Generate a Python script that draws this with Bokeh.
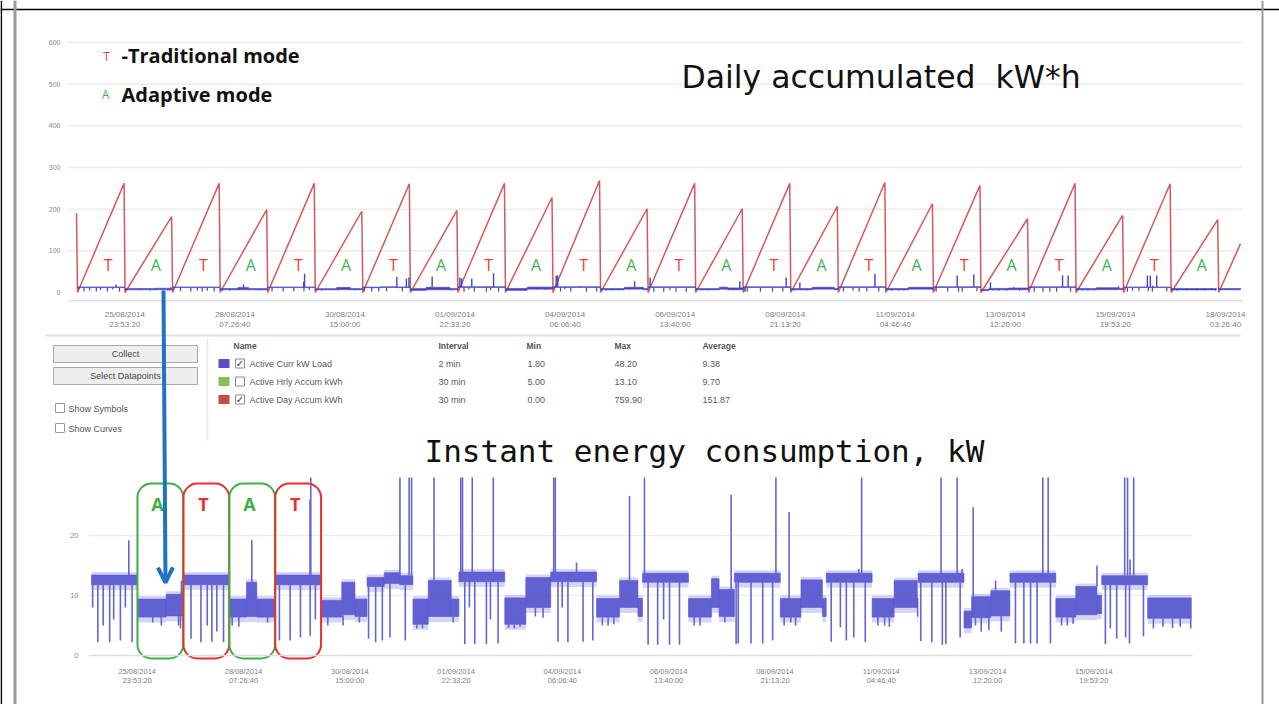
import numpy as np
from bokeh.plotting import figure
from bokeh.models import (Range1d, LinearAxis, DatetimeAxis, FixedTicker,
                          DatetimeTickFormatter, Span, Arrow, OpenHead)
from bokeh.core.properties import value
from bokeh.embed import file_html
from bokeh.resources import INLINE

# ------------------------------------------------------------------ data
days = ["2014-08-25", "2014-08-26", "2014-08-27", "2014-08-28", "2014-08-29",
        "2014-08-30", "2014-08-31", "2014-09-01", "2014-09-02", "2014-09-03",
        "2014-09-04", "2014-09-05", "2014-09-06", "2014-09-07", "2014-09-08",
        "2014-09-09", "2014-09-10", "2014-09-11", "2014-09-12", "2014-09-13",
        "2014-09-14", "2014-09-15", "2014-09-16", "2014-09-17", "2014-09-18"]
modes = ["T", "A", "T", "A", "T", "A", "T", "A", "T", "A", "T", "A",
         "T", "A", "T", "A", "T", "A", "T", "A", "T", "A", "T", "A"]
# daily accumulated kWh reached at the end of each day (23:30)
day_peak_kwh = [262, 182, 262, 199, 262, 195, 261, 197, 262, 228, 269, 201,
                262, 201, 262, 207, 264, 213, 257, 177, 262, 185, 261, 175]
prev_day_end = ("2014-08-24", 23.5, 190)
last_day_partial = ("2014-09-18", 11.0, 117)

# instantaneous load (kW): dense bands (day idx, from h, to h, low, high)
load_bands = [
    (0, 0.0, 24.0, 11.8, 13.4),
    (1, 0.0, 15.0, 6.4, 9.4), (1, 15.0, 24.0, 6.6, 10.2),
    (2, 0.0, 24.0, 11.8, 13.4),
    (3, 0.0, 9.0, 6.4, 9.4), (3, 9.0, 14.4, 6.5, 12.2), (3, 14.4, 24.0, 6.4, 9.4),
    (4, 0.0, 24.0, 11.8, 13.4),
    (5, 0.0, 10.8, 6.4, 9.2), (5, 10.8, 17.7, 6.8, 12.2), (5, 17.7, 24.0, 6.5, 9.4),
    (6, 0.0, 9.0, 11.5, 13.0), (6, 9.0, 17.0, 12.0, 13.8), (6, 17.0, 24.0, 11.8, 13.3),
    (7, 0.0, 8.0, 5.2, 9.4), (7, 8.0, 20.0, 6.5, 12.5), (7, 20.0, 24.0, 6.5, 9.4),
    (8, 0.0, 24.0, 12.3, 13.9),
    (9, 0.0, 11.0, 5.2, 9.6), (9, 11.0, 24.0, 8.0, 13.0),
    (10, 0.0, 24.0, 12.3, 13.9),
    (11, 0.0, 12.0, 6.4, 9.5), (11, 12.0, 21.6, 8.0, 12.5), (11, 21.6, 24.0, 6.5, 9.5),
    (12, 0.0, 24.0, 12.2, 13.7),
    (13, 0.0, 12.0, 6.4, 9.5), (13, 12.0, 16.0, 8.0, 12.8), (13, 16.0, 24.0, 6.5, 11.0),
    (14, 0.0, 24.0, 12.2, 13.7),
    (15, 0.0, 10.8, 6.4, 9.5), (15, 10.8, 22.0, 8.0, 12.6), (15, 22.0, 24.0, 6.5, 9.5),
    (16, 0.0, 24.0, 12.2, 13.7),
    (17, 0.0, 11.5, 6.4, 9.5), (17, 11.5, 23.6, 8.0, 12.5), (17, 23.6, 24.0, 6.5, 9.5),
    (18, 0.0, 24.0, 12.2, 13.7),
    (19, 0.0, 4.0, 4.6, 7.4), (19, 4.0, 14.0, 6.3, 9.8), (19, 14.0, 24.0, 6.6, 10.8),
    (20, 0.0, 24.0, 12.2, 13.7),
    (21, 0.0, 10.4, 6.4, 9.5), (21, 10.4, 21.5, 6.8, 11.5), (21, 21.5, 24.0, 7.0, 10.0),
    (22, 0.0, 24.0, 11.8, 13.3),
    (23, 0.0, 22.8, 6.2, 9.6),
    (24, 0.0, 11.0, 6.5, 9.5),
]
# short drops of the load (day idx, hour, lowest kW)
load_dips = [
    (0, 0.6, 8.0), (0, 3.3, 2.2), (0, 6.1, 5.0), (0, 9.5, 2.2), (0, 11.6, 6.0),
    (0, 15.1, 2.5), (0, 17.7, 8.0), (0, 21.2, 2.2),
    (1, 8.0, 5.5), (1, 12.5, 5.0), (1, 21.5, 5.0), (1, 22.5, 4.5),
    (2, 4.0, 2.8), (2, 9.2, 2.2), (2, 12.5, 5.0), (2, 14.9, 2.3), (2, 17.5, 4.0), (2, 21.0, 2.2),
    (3, 1.5, 5.0), (3, 5.0, 4.8), (3, 20.0, 5.5),
    (4, 2.2, 2.5), (4, 7.8, 2.5), (4, 13.2, 3.0), (4, 18.3, 3.3), (4, 21.0, 6.0),
    (5, 3.5, 5.0), (5, 11.5, 5.0), (5, 20.0, 5.5),
    (6, 0.8, 2.8), (6, 4.5, 2.2), (6, 8.0, 2.5), (6, 12.0, 3.0), (6, 20.0, 2.5),
    (7, 2.0, 4.5), (7, 5.0, 4.5), (7, 21.0, 5.5),
    (8, 3.1, 1.9), (8, 5.5, 8.0), (8, 8.3, 1.9), (8, 14.4, 1.9), (8, 16.5, 6.0), (8, 20.5, 2.0),
    (9, 2.0, 4.6), (9, 5.0, 4.5), (9, 8.0, 4.8), (9, 16.0, 6.5), (9, 20.0, 6.3),
    (10, 3.8, 2.3), (10, 6.0, 8.0), (10, 9.0, 2.2), (10, 16.9, 2.3), (10, 22.0, 2.5),
    (11, 3.0, 5.0), (11, 6.0, 5.0), (11, 9.0, 5.2),
    (12, 2.9, 1.8), (12, 7.9, 1.8), (12, 11.0, 6.0), (12, 14.1, 1.8), (12, 19.3, 1.8),
    (13, 3.0, 5.0), (13, 6.0, 5.0), (13, 19.0, 5.5),
    (14, 0.9, 1.9), (14, 2.0, 2.0), (14, 8.7, 2.0), (14, 14.8, 2.0), (14, 20.0, 2.5),
    (15, 2.0, 5.0), (15, 5.5, 5.5), (15, 8.0, 5.0),
    (16, 2.6, 2.3), (16, 7.4, 4.7), (16, 10.5, 2.5), (16, 14.4, 3.0), (16, 20.4, 2.2),
    (17, 3.0, 5.0), (17, 6.5, 5.0), (17, 9.0, 4.8),
    (18, 1.4, 2.4), (18, 7.2, 2.2), (18, 12.7, 1.8), (18, 14.5, 1.9), (18, 22.0, 3.0),
    (19, 6.0, 5.0), (19, 9.0, 4.0), (19, 13.0, 4.2), (19, 19.5, 4.0),
    (20, 2.9, 2.0), (20, 7.3, 2.0), (20, 10.8, 2.0), (20, 14.2, 2.0), (20, 21.2, 2.0),
    (21, 3.0, 5.0), (21, 6.0, 5.0), (21, 9.0, 5.3),
    (22, 1.9, 1.9), (22, 4.5, 4.5), (22, 7.8, 2.8), (22, 12.5, 3.0), (22, 14.5, 2.0), (22, 21.8, 3.2),
    (23, 3.0, 4.5), (23, 8.0, 4.8), (23, 13.0, 4.6), (23, 17.0, 4.8), (23, 22.5, 4.5),
]
# load peaks (day idx, hour, peak kW)
load_spikes = [
    (0, 19.5, 19.2), (1, 23.0, 12.5), (3, 11.8, 19.2), (4, 18.2, 26.0), (4, 18.6, 45.0),
    (6, 17.2, 38.0), (6, 22.0, 33.0), (6, 23.3, 36.0), (7, 11.0, 38.0),
    (8, 1.0, 36.0), (8, 1.9, 34.0), (8, 7.0, 33.0), (8, 18.0, 46.0),
    (10, 1.6, 41.0), (10, 2.4, 41.0), (10, 13.5, 15.5), (11, 17.2, 26.6), (12, 1.0, 36.0),
    (13, 22.3, 26.8), (14, 21.7, 36.0), (15, 4.6, 23.9), (16, 17.0, 14.4), (16, 18.5, 45.0),
    (18, 12.0, 41.0), (18, 20.4, 43.0), (18, 23.0, 14.4), (19, 4.8, 24.7), (19, 16.5, 12.5),
    (20, 17.2, 41.0), (20, 20.0, 41.0), (21, 21.5, 15.0),
    (22, 12.0, 41.0), (22, 13.5, 41.0), (22, 14.8, 16.0), (22, 16.7, 41.0),
]
boxed_days = [1, 2, 3, 4]

tick_times = ["2014-08-25T23:53:20", "2014-08-28T07:26:40", "2014-08-30T15:00:00",
              "2014-09-01T22:33:20", "2014-09-04T06:06:40", "2014-09-06T13:40:00",
              "2014-09-08T21:13:20", "2014-09-11T04:46:40", "2014-09-13T12:20:00",
              "2014-09-15T19:53:20", "2014-09-18T03:26:40"]
top_y_ticks = [0, 100, 200, 300, 400, 500, 600]
bot_y_ticks = [0, 10, 20]

table_names = ["Active Curr kW Load", "Active Hrly Accum kWh", "Active Day Accum kWh"]
table_checked = [True, False, True]
table_colors = ["#5252c6", "#86c155", "#c64b4b"]
table_interval = ["2 min", "30 min", "30 min"]
table_min = ["1.80", "5.00", "0.00"]
table_max = ["48.20", "13.10", "759.90"]
table_avg = ["9.38", "9.70", "151.87"]

# ------------------------------------------------------------------ layout
W, H = 1279, 704
FL, FR, FT, FB = 0, W, 0, H          # page px of the frame
MS_H = 3600000.0
DAY = 24 * MS_H


def t(day, hour=0.0):
    return float(np.datetime64(day, "ms").astype(np.int64)) + hour * MS_H


T0 = t(days[0])
TOP_X0, TOP_PXD = 77.0, 47.55
BOT_X0, BOT_PXD = 91.0, 45.92
TOP_Y0, TOP_PXU = 292.0, 250.0 / 600.0
BOT_Y0, BOT_PXU = 655.0, 6.0


def top_t(px):
    return T0 + (px - TOP_X0) / TOP_PXD * DAY


def bot_t(px):
    return T0 + (px - BOT_X0) / BOT_PXD * DAY


BOT_YMAX = (BOT_Y0 - 477.0) / BOT_PXU
BOT_TEND = bot_t(1192.5)

p = figure(width=W, height=H, x_range=Range1d(FL, FR), y_range=Range1d(FB, FT),
           output_backend="svg", toolbar_location=None,
           x_axis_location=None, y_axis_location=None, min_border=0,
           background_fill_color="white", border_fill_color="white",
           outline_line_color=None)
p.grid.visible = False
p.extra_x_ranges = {"tt": Range1d(top_t(FL), top_t(FR)),
                    "tb": Range1d(bot_t(FL), bot_t(FR))}
p.extra_y_ranges = {"yt": Range1d((TOP_Y0 - FB) / TOP_PXU, (TOP_Y0 - FT) / TOP_PXU),
                    "yb": Range1d((BOT_Y0 - FB) / BOT_PXU, (BOT_Y0 - FT) / BOT_PXU)}
TOP = dict(x_range_name="tt", y_range_name="yt")
BOT = dict(x_range_name="tb", y_range_name="yb")

# page frame lines
p.add_layout(Span(location=9, dimension="width", line_color="black", line_width=1.5))
p.add_layout(Span(location=0.8, dimension="height", line_color="black", line_width=1.6))
p.add_layout(Span(location=14.5, dimension="height", line_color="#9a9a9a", line_width=3))
p.add_layout(Span(location=1262, dimension="height", line_color="#9a9a9a", line_width=2))

# ------------------------------------------------------------------ top chart
p.segment(x0=[top_t(68)] * 6, x1=[top_t(1242)] * 6, y0=top_y_ticks[1:], y1=top_y_ticks[1:],
          line_color="#ececec", line_width=1.5, **TOP)

saw_x = [t(prev_day_end[0], prev_day_end[1])]
saw_y = [prev_day_end[2]]
for d, pk in zip(days[:24], day_peak_kwh):
    saw_x += [t(d, 0.0), t(d, 23.5)]
    saw_y += [0, pk]
saw_x += [t(last_day_partial[0], 0.0), t(last_day_partial[0], last_day_partial[1])]
saw_y += [0, last_day_partial[2]]
p.line(saw_x, saw_y, line_color="#d8585a", line_width=1.5, **TOP)


def band_at(day, hour):
    for (d, s, e, lo, hi) in load_bands:
        if d == day and s <= hour <= e:
            return lo, hi
    return 8.0, 9.0


bl = [t(days[d], s) for (d, s, e, lo, hi) in load_bands]
br = [t(days[d], e) for (d, s, e, lo, hi) in load_bands]
bb = [lo for (d, s, e, lo, hi) in load_bands]
bt = [hi for (d, s, e, lo, hi) in load_bands]
dx = [t(days[d], h) for (d, h, v) in load_dips]
d0 = [band_at(d, h)[0] for (d, h, v) in load_dips]
d1 = [v for (d, h, v) in load_dips]
sx = [t(days[d], h) for (d, h, v) in load_spikes]
s0 = [band_at(d, h)[1] for (d, h, v) in load_spikes]
s1 = [v for (d, h, v) in load_spikes]

# blue load on the kWh chart
p.quad(left=bl, right=br, bottom=bb, top=bt, fill_color="#4343c4", line_color="#4343c4",
       line_width=0.6, **TOP)
p.segment(x0=dx, x1=dx, y0=d0, y1=d1, line_color="#4343c4", line_width=1.2, **TOP)
p.segment(x0=sx, x1=sx, y0=s0, y1=s1, line_color="#4343c4", line_width=1.4, **TOP)

# mode letters
p.text(x=[t(d, 15.5) for d in days[:24]], y=[65] * 24, text=modes,
       text_color=["#e8413c" if m == "T" else "#3fb24f" for m in modes],
       text_font=value("Open Sans"), text_font_size="16px",
       text_align="center", text_baseline="middle", **TOP)

# ------------------------------------------------------------------ bottom chart
p.segment(x0=[bot_t(88)] * 2, x1=[bot_t(1192)] * 2, y0=bot_y_ticks[1:], y1=bot_y_ticks[1:],
          line_color="#ededed", line_width=1.5, **BOT)
keep = [i for i in range(len(bl)) if bl[i] < BOT_TEND]
kl = [bl[i] for i in keep]
kr = [min(br[i], BOT_TEND) for i in keep]
# soft noisy edge of the band, then the dense core
p.quad(left=kl, right=kr, bottom=[bb[i] - 0.9 for i in keep], top=[bt[i] + 0.5 for i in keep],
       fill_color="#7070dc", fill_alpha=0.3, line_color=None, **BOT)
p.quad(left=kl, right=kr, bottom=[bb[i] for i in keep], top=[bt[i] for i in keep],
       fill_color="#5757cf", fill_alpha=0.92, line_color="#5757cf", line_alpha=0.6,
       line_width=1, **BOT)
p.segment(x0=dx, x1=dx, y0=d0, y1=d1, line_color="#6464d6", line_width=1.6, **BOT)
p.segment(x0=sx, x1=sx, y0=s0, y1=[min(v, BOT_YMAX) for v in s1],
          line_color="#6464d6", line_width=1.6, **BOT)

box_kw = dict(left=[t(days[d], 0.02) for d in boxed_days],
              right=[t(days[d], 23.98) for d in boxed_days],
              bottom=[(BOT_Y0 - 658) / BOT_PXU] * 4, top=[(BOT_Y0 - 483) / BOT_PXU] * 4,
              fill_color=None,
              line_color=["#3cb043" if modes[d] == "A" else "#e8302c" for d in boxed_days],
              line_width=2, **BOT)
try:
    p.quad(border_radius=14, **box_kw)
except Exception:
    p.quad(**box_kw)
p.text(x=[t(days[d], 10.5) for d in boxed_days], y=[(BOT_Y0 - 503) / BOT_PXU] * 4,
       text=[modes[d] for d in boxed_days],
       text_color=["#3cb043" if modes[d] == "A" else "#e8302c" for d in boxed_days],
       text_font=value("Open Sans"), text_font_style="bold", text_font_size="18px",
       text_align="center", text_baseline="middle", **BOT)

# ------------------------------------------------------------------ axes
FMT_KEYS = ["microseconds", "milliseconds", "seconds", "minsec", "minutes",
            "hourmin", "hours", "days", "months", "years"]
tick_ms = [float(np.datetime64(s, "ms").astype(np.int64)) for s in tick_times]


def fmt(f):
    kw = {k: f for k in FMT_KEYS}
    try:
        return DatetimeTickFormatter(strip_leading_zeros=False, **kw)
    except Exception:
        return DatetimeTickFormatter(**kw)


def style(ax, size, standoff, color="#808080"):
    ax.major_tick_line_color = None
    ax.minor_tick_line_color = None
    ax.major_tick_in = 0
    ax.major_tick_out = 0
    ax.minor_tick_in = 0
    ax.minor_tick_out = 0
    ax.major_label_standoff = standoff
    ax.major_label_text_font_size = size
    ax.major_label_text_color = color
    ax.major_label_text_font = "Liberation Sans"


def x_axes(names, loc, ticks, bounds, size, so1, so2, line_color):
    a1 = DatetimeAxis(fixed_location=loc, bounds=bounds, ticker=FixedTicker(ticks=ticks, minor_ticks=[]),
                      formatter=fmt("%d/%m/%Y"), **names)
    style(a1, size, so1)
    a1.axis_line_color = line_color
    a1.axis_line_width = 1.5
    a2 = DatetimeAxis(fixed_location=loc, bounds=bounds, ticker=FixedTicker(ticks=ticks, minor_ticks=[]),
                      formatter=fmt("%H:%M:%S"), **names)
    style(a2, size, so2)
    a2.axis_line_color = None
    p.add_layout(a1, "below")
    p.add_layout(a2, "below")


def y_axis(names, loc, ticks, size, so):
    a = LinearAxis(fixed_location=loc, bounds=(min(ticks), max(ticks)),
                   ticker=FixedTicker(ticks=ticks, minor_ticks=[]), **names)
    style(a, size, so, "#8a8a8a")
    a.axis_line_color = None
    p.add_layout(a, "left")


x_axes(TOP, (TOP_Y0 - 300) / TOP_PXU, tick_ms, (top_t(68), top_t(1242)), "8px", 9, 19, "#dcdcdc")
x_axes(BOT, 0, tick_ms[:10], (bot_t(88), bot_t(1192)), "7.5px", 11, 20, "#dedede")
y_axis(TOP, top_t(68), top_y_ticks, "7px", 8)
y_axis(BOT, bot_t(86), bot_y_ticks, "7.5px", 8)

# ------------------------------------------------------------------ titles / legend
p.text(x=[681], y=[76], text=["Daily accumulated\u00a0 kW*h"], text_font=value("DejaVu Sans"),
       text_font_size="31.5px", text_color="#111111", text_baseline="middle")
p.text(x=[424], y=[450], text=["Instant energy consumption, kW"],
       text_font=value("DejaVu Sans Mono"), text_font_size="31px", text_color="#111111",
       text_baseline="middle")
p.text(x=[106, 105], y=[56, 94], text=["T", "A"], text_color=["#e8413c", "#3fb24f"],
       text_font=value("Open Sans"), text_font_size="12px", text_align="center",
       text_baseline="middle")
p.text(x=[121, 121], y=[55, 94], text=["-Traditional mode", "Adaptive mode"],
       text_font=value("Open Sans"), text_font_style="bold", text_font_size="20px",
       text_color="#111111", text_baseline="middle")

# ------------------------------------------------------------------ control panel
p.segment(x0=[45], x1=[1240], y0=[335], y1=[335], line_color="#e2e2e2", line_width=2)
p.segment(x0=[207], x1=[207], y0=[338], y1=[440], line_color="#e6e6e6", line_width=1.5)
p.quad(left=[53, 53], right=[197, 197], top=[345, 367], bottom=[362, 384],
       fill_color="#eeeeee", line_color="#a9a9a9", line_width=1)
p.text(x=[125, 125], y=[353.5, 375.5], text=["Collect", "Select Datapoints"],
       text_font=value("Liberation Sans"), text_font_size="9px", text_color="#4a4a4a",
       text_align="center", text_baseline="middle")
p.quad(left=[55, 55], right=[64, 64], top=[403, 423], bottom=[412, 432],
       fill_color="white", line_color="#9a9a9a", line_width=1)
p.text(x=[68, 68], y=[408, 428], text=["Show Symbols", "Show Curves"],
       text_font=value("Liberation Sans"), text_font_size="9px", text_color="#555555",
       text_baseline="middle")

rows = [363, 381, 399]
p.text(x=[233, 438, 526, 614, 702], y=[345] * 5, text=["Name", "Interval", "Min", "Max", "Average"],
       text_font=value("Liberation Sans"), text_font_style="bold", text_font_size="8.5px",
       text_color="#555555", text_baseline="middle")
p.quad(left=[218] * 3, right=[229] * 3, top=[r - 4.5 for r in rows], bottom=[r + 4.5 for r in rows],
       fill_color=table_colors, line_color=None)
p.quad(left=[235] * 3, right=[244] * 3, top=[r - 4.5 for r in rows], bottom=[r + 4.5 for r in rows],
       fill_color="white", line_color="#8a8a8a", line_width=1)
p.text(x=[239.5 for c in table_checked if c], y=[r for r, c in zip(rows, table_checked) if c],
       text=["\u2713" for c in table_checked if c], text_font=value("DejaVu Sans"),
       text_font_size="10px", text_color="#333333", text_align="center", text_baseline="middle")
cols = [(249, table_names), (438, table_interval), (527, table_min), (614, table_max), (702, table_avg)]
for cx, vals in cols:
    p.text(x=[cx] * 3, y=rows, text=vals, text_font=value("Liberation Sans"),
           text_font_size="9px", text_color="#5a5a5a", text_baseline="middle")

# arrow linking the two charts
p.add_layout(Arrow(end=OpenHead(size=15, line_color="#1f73c1", line_width=4),
                   x_start=163, y_start=290, x_end=165, y_end=582,
                   line_color="#1f73c1", line_width=4))

open("out.html", "w").write(file_html(p, INLINE))
